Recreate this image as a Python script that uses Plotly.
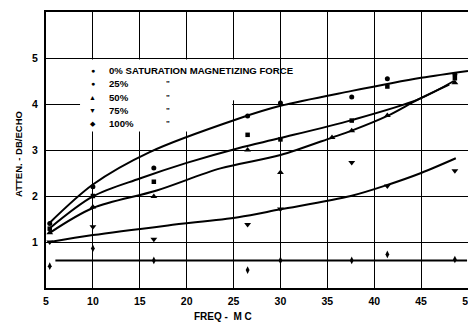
import plotly.graph_objects as go

# ---- measured points (freq in MC, attenuation in dB/echo) ----
p0_x = [5.4, 10, 16.5, 26.5, 30, 37.6, 41.4, 48.6]
p0_y = [1.40, 2.20, 2.61, 3.74, 4.02, 4.15, 4.55, 4.64]
p25_x = [5.4, 10, 16.5, 26.5, 30, 37.6, 41.4, 48.6]
p25_y = [1.29, 2.00, 2.31, 3.33, 3.23, 3.64, 4.38, 4.56]
p50_x = [5.4, 10, 16.5, 26.5, 30, 35.5, 37.6, 41.4, 48.6]
p50_y = [1.20, 1.76, 1.99, 3.00, 2.51, 3.27, 3.42, 3.75, 4.46]
p75_x = [5.4, 10, 16.5, 26.5, 30, 37.6, 41.4, 48.6]
p75_y = [1.00, 1.33, 1.06, 1.38, 1.72, 2.73, 2.22, 2.55]
p100_x = [5.4, 10, 16.5, 26.5, 30, 37.6, 41.4, 48.6]
p100_y = [0.475, 0.86, 0.60, 0.39, 0.60, 0.60, 0.73, 0.62]

# ---- fitted curves ----
c0_x = [5.4, 10, 16, 25.5, 30, 37.5, 45, 50]
c0_y = [1.42, 2.25, 2.95, 3.68, 3.96, 4.28, 4.57, 4.72]
c25_x = [5.4, 10, 15, 20, 25.5, 30, 37.6, 44.7, 48.5]
c25_y = [1.30, 1.99, 2.38, 2.72, 3.04, 3.26, 3.65, 4.10, 4.50]
c50_x = [5.4, 10, 16.8, 23.6, 30, 35.5, 37.6, 41.4, 44.7, 48.0]
c50_y = [1.20, 1.74, 2.12, 2.60, 2.89, 3.27, 3.42, 3.74, 4.10, 4.42]
c75_x = [5.4, 10, 18, 25.5, 30, 37.5, 41.4, 45, 48.7]
c75_y = [1.00, 1.15, 1.36, 1.54, 1.71, 2.00, 2.24, 2.50, 2.82]
c100_x = [6.0, 49.9]
c100_y = [0.60, 0.60]

x_ticks = [5, 10, 15, 20, 25, 30, 35, 40, 45, 50]
y_ticks = [1, 2, 3, 4, 5]

legend_labels = ["0% SATURATION MAGNETIZING FORCE", "25%", "50%", "75%", "100%"]
legend_glyphs = ["●", "●", "▲", "▼", "◆"]

FONT = "Liberation Sans, Arial, sans-serif"

fig = go.Figure()

for cx, cy in [(c0_x, c0_y), (c25_x, c25_y), (c50_x, c50_y), (c75_x, c75_y), (c100_x, c100_y)]:
    fig.add_trace(go.Scatter(x=cx, y=cy, mode="lines",
                             line=dict(color="black", width=2, shape="spline", smoothing=0.9),
                             hoverinfo="skip", showlegend=False))

for px, py, sym, sz in [(p0_x, p0_y, "circle", 5), (p25_x, p25_y, "square", 4.5),
                        (p50_x, p50_y, "triangle-up", 6), (p75_x, p75_y, "triangle-down", 6),
                        (p100_x, p100_y, "diamond-tall", 5.5)]:
    fig.add_trace(go.Scatter(x=px, y=py, mode="markers",
                             marker=dict(symbol=sym, size=sz, color="black"),
                             showlegend=False))

# blank region behind the legend (grid interrupted in the original)
fig.add_shape(type="rect", xref="x", yref="y", x0=8.63, x1=24.85, y0=3.40, y1=4.97,
              fillcolor="white", line=dict(width=0), layer="between")
fig.add_shape(type="rect", xref="x", yref="y", x0=24.8, x1=25.2, y0=4.08, y1=4.97,
              fillcolor="white", line=dict(width=0), layer="between")

# page body has an 8px margin; figure is placed at (8, 8) in the window
OFF = 8
W, H = 476 - OFF, 324 - OFF
# plot area in window pixels: x 46..468, y 10..288
L, T = 46 - OFF, 10 - OFF
R = W - (468 - OFF)
B = H - (288 - OFF)
pw, ph = W - L - R, H - T - B


def px2paper(xp, yp):
    # xp, yp are window pixel positions
    return (xp - 46) / pw, (288 - yp) / ph


rows_y = [69.3, 82.5, 95.8, 109.2, 122.7]
ann = []
for i, (lab, g) in enumerate(zip(legend_labels, legend_glyphs)):
    gx, gy = px2paper(92.7, rows_y[i])
    ann.append(dict(x=gx, y=gy, xref="paper", yref="paper", text=g, showarrow=False,
                    xanchor="center", yanchor="middle", font=dict(size=7, color="black")))
    tx, ty = px2paper(106.5, rows_y[i])
    ann.append(dict(x=tx, y=ty, xref="paper", yref="paper", text="<b>" + lab + "</b>", showarrow=False,
                    xanchor="left", yanchor="middle", font=dict(size=9.6, family=FONT, color="black")))
    if i > 0:
        dx, dy = px2paper(168.3, rows_y[i])
        ann.append(dict(x=dx, y=dy, xref="paper", yref="paper", text="<b>\"</b>", showarrow=False,
                        xanchor="center", yanchor="middle", font=dict(size=8, family=FONT, color="black")))

ax_, ay_ = px2paper(19, 153)
ann.append(dict(x=ax_, y=ay_, xref="paper", yref="paper", text="<b>ATTEN. - DB/ECHO</b>",
                textangle=-90, showarrow=False, xanchor="center", yanchor="middle",
                font=dict(size=9.5, family=FONT, color="black")))
fx, fy = px2paper(223, 317)
ann.append(dict(x=fx, y=fy, xref="paper", yref="paper", text="<b>FREQ -\u00a0\u00a0M\u00a0C</b>",
                showarrow=False, xanchor="center", yanchor="middle",
                font=dict(size=10, family=FONT, color="black")))

fig.update_layout(
    width=W, height=H,
    margin=dict(l=L, r=R, t=T, b=B, pad=0),
    paper_bgcolor="white", plot_bgcolor="white",
    font=dict(family=FONT, color="black"),
    annotations=ann,
    xaxis=dict(range=[5, 50], tickvals=x_ticks, ticktext=["<b>%d</b>" % v for v in x_ticks],
               showgrid=True, gridcolor="black", gridwidth=1.2, zeroline=False,
               showline=True, linecolor="black", linewidth=2, mirror=True,
               ticks="", tickfont=dict(size=10.5, family=FONT, color="black"), ticklabelstandoff=2),
    yaxis=dict(range=[0, 6], tickvals=y_ticks, ticktext=["<b>%d</b>" % v for v in y_ticks],
               showgrid=True, gridcolor="black", gridwidth=1.2, zeroline=False,
               showline=True, linecolor="black", linewidth=2, mirror=True,
               ticks="", tickfont=dict(size=10.5, family=FONT, color="black"), ticklabelstandoff=4),
)

fig.write_html("out.html")
